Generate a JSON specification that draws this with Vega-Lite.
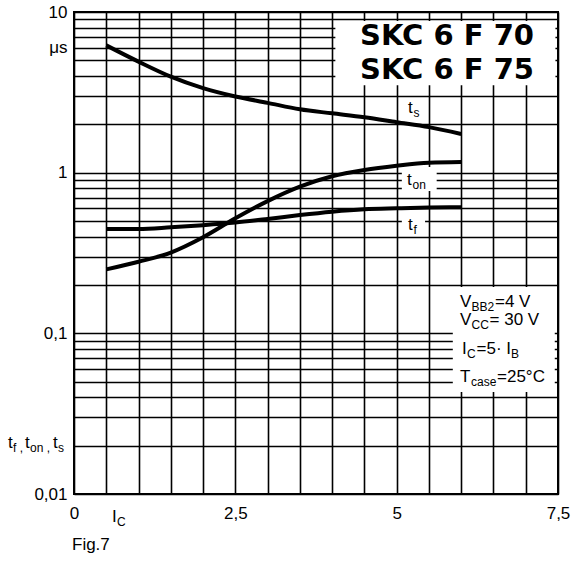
{
  "$schema": "https://vega.github.io/schema/vega-lite/v6.json",
  "width": 484,
  "height": 482,
  "autosize": {"type": "none"},
  "padding": {"left": 74, "top": 12, "right": 13, "bottom": 69},
  "background": "white",
  "config": {
    "view": {"stroke": "black", "strokeWidth": 2},
    "font": "Liberation Sans"
  },
  "datasets": {
    "curves": [
      {"series": "ts", "x": 0.5, "y": 6.2},
      {"series": "ts", "x": 1.0, "y": 4.91},
      {"series": "ts", "x": 1.5, "y": 3.96},
      {"series": "ts", "x": 2.0, "y": 3.36},
      {"series": "ts", "x": 2.5, "y": 2.98},
      {"series": "ts", "x": 3.0, "y": 2.72},
      {"series": "ts", "x": 3.5, "y": 2.48},
      {"series": "ts", "x": 4.0, "y": 2.34},
      {"series": "ts", "x": 4.5, "y": 2.21},
      {"series": "ts", "x": 5.0, "y": 2.06},
      {"series": "ts", "x": 5.5, "y": 1.92},
      {"series": "ts", "x": 6.0, "y": 1.74},
      {"series": "ton", "x": 0.5, "y": 0.25},
      {"series": "ton", "x": 1.0, "y": 0.279},
      {"series": "ton", "x": 1.5, "y": 0.318},
      {"series": "ton", "x": 2.0, "y": 0.396},
      {"series": "ton", "x": 2.5, "y": 0.52},
      {"series": "ton", "x": 3.0, "y": 0.665},
      {"series": "ton", "x": 3.5, "y": 0.818},
      {"series": "ton", "x": 4.0, "y": 0.95},
      {"series": "ton", "x": 4.5, "y": 1.04},
      {"series": "ton", "x": 5.0, "y": 1.105},
      {"series": "ton", "x": 5.5, "y": 1.154},
      {"series": "ton", "x": 6.0, "y": 1.166},
      {"series": "tf", "x": 0.5, "y": 0.446},
      {"series": "tf", "x": 1.0, "y": 0.446},
      {"series": "tf", "x": 1.5, "y": 0.457},
      {"series": "tf", "x": 2.0, "y": 0.471},
      {"series": "tf", "x": 2.5, "y": 0.489},
      {"series": "tf", "x": 3.0, "y": 0.515},
      {"series": "tf", "x": 3.5, "y": 0.545},
      {"series": "tf", "x": 4.0, "y": 0.572},
      {"series": "tf", "x": 4.5, "y": 0.592},
      {"series": "tf", "x": 5.0, "y": 0.6},
      {"series": "tf", "x": 5.5, "y": 0.606},
      {"series": "tf", "x": 6.0, "y": 0.609}
    ],
    "boxes": [
      {"x": 4.05, "x2": 7.46, "y": 3.5, "y2": 8.8},
      {"x": 5.08, "x2": 5.62, "y": 0.77, "y2": 1.085},
      {"x": 5.08, "x2": 5.44, "y": 0.41, "y2": 0.56},
      {"x": 5.87, "x2": 7.45, "y": 0.0432, "y2": 0.194}
    ],
    "labels": [
      {"k": "big", "x": 5.78, "y": 6.236, "text": "SKC 6 F 70"},
      {"k": "big", "x": 5.78, "y": 3.83, "text": "SKC 6 F 75"},
      {"k": "main", "x": 5.176, "y": 2.353, "text": "t"},
      {"k": "sub", "x": 5.26, "y": 2.353, "text": "s"},
      {"k": "main", "x": 5.16, "y": 0.838, "text": "t"},
      {"k": "sub", "x": 5.245, "y": 0.838, "text": "on"},
      {"k": "main", "x": 5.176, "y": 0.44, "text": "t"},
      {"k": "sub", "x": 5.26, "y": 0.44, "text": "f"},
      {"k": "main", "x": 5.981, "y": 0.1459, "text": "V"},
      {"k": "sub", "x": 6.16, "y": 0.1459, "text": "BB2"},
      {"k": "main", "x": 6.524, "y": 0.1459, "text": "=4 V"},
      {"k": "main", "x": 5.981, "y": 0.1127, "text": "V"},
      {"k": "sub", "x": 6.16, "y": 0.1127, "text": "CC"},
      {"k": "main", "x": 6.439, "y": 0.1127, "text": "= 30 V"},
      {"k": "main", "x": 6.012, "y": 0.0744, "text": "I"},
      {"k": "sub", "x": 6.09, "y": 0.0744, "text": "C"},
      {"k": "main", "x": 6.237, "y": 0.0744, "text": "=5· I"},
      {"k": "sub", "x": 6.772, "y": 0.0744, "text": "B"},
      {"k": "main", "x": 5.981, "y": 0.0498, "text": "T"},
      {"k": "sub", "x": 6.152, "y": 0.0498, "text": "case"},
      {"k": "main", "x": 6.555, "y": 0.0498, "text": "=25°C"},
      {"k": "main", "x": -1.023, "y": 0.01934, "text": "t"},
      {"k": "sub", "x": -0.945, "y": 0.01934, "text": "f ,"},
      {"k": "main", "x": -0.759, "y": 0.01934, "text": "t"},
      {"k": "sub", "x": -0.682, "y": 0.01934, "text": "on ,"},
      {"k": "main", "x": -0.325, "y": 0.01934, "text": "t"},
      {"k": "sub", "x": -0.248, "y": 0.01934, "text": "s"},
      {"k": "main", "x": 0.589, "y": 0.00673, "text": "I"},
      {"k": "sub", "x": 0.666, "y": 0.00673, "text": "C"},
      {"k": "main", "x": -0.031, "y": 0.00449, "text": "Fig.7"}
    ]
  },
  "encoding": {
    "x": {
      "field": "x",
      "type": "quantitative",
      "scale": {"domain": [0, 7.5], "nice": false, "zero": false},
      "axis": {
        "title": null,
        "values": [0, 0.5, 1, 1.5, 2, 2.5, 3, 3.5, 4, 4.5, 5, 5.5, 6, 6.5, 7, 7.5],
        "labelExpr": "datum.value == 0 ? '0' : datum.value == 2.5 ? '2,5' : datum.value == 5 ? '5' : datum.value == 7.5 ? '7,5' : ''",
        "grid": true,
        "gridColor": "black",
        "gridWidth": 1.6,
        "gridOpacity": 1,
        "domain": false,
        "ticks": false,
        "labelPadding": 11,
        "labelFontSize": 17,
        "labelColor": "black",
        "labelFont": "Liberation Sans",
        "labelOverlap": false,
        "labelFlush": false,
        "labelBound": false
      }
    },
    "y": {
      "field": "y",
      "type": "quantitative",
      "scale": {"type": "log", "domain": [0.01, 10], "nice": false},
      "axis": {
        "title": null,
        "values": [0.01, 0.02, 0.03, 0.04, 0.05, 0.06, 0.07, 0.08, 0.09, 0.1, 0.2, 0.3, 0.4, 0.5, 0.6, 0.7, 0.8, 0.9, 1, 2, 3, 4, 5, 6, 7, 8, 9, 10],
        "labelExpr": "datum.value == 10 ? '10' : datum.value == 6 ? 'μs' : datum.value == 1 ? '1' : datum.value == 0.1 ? '0,1' : datum.value == 0.01 ? '0,01' : ''",
        "grid": true,
        "gridColor": "black",
        "gridWidth": 1.6,
        "gridOpacity": 1,
        "domain": false,
        "ticks": false,
        "labelPadding": 7,
        "labelFontSize": 17,
        "labelColor": "black",
        "labelFont": "Liberation Sans",
        "labelOverlap": false,
        "labelFlush": false,
        "labelBound": false
      }
    }
  },
  "layer": [
    {
      "data": {"name": "boxes"},
      "mark": {"type": "rect", "color": "white", "opacity": 1},
      "encoding": {
        "x2": {"field": "x2"},
        "y2": {"field": "y2"}
      }
    },
    {
      "data": {"name": "curves"},
      "mark": {"type": "line", "color": "black", "strokeWidth": 4, "interpolate": "monotone"},
      "encoding": {
        "detail": {"field": "series", "type": "nominal"}
      }
    },
    {
      "data": {"name": "labels"},
      "transform": [{"filter": "datum.k == 'big'"}],
      "mark": {"type": "text", "font": "DejaVu Sans", "fontWeight": "bold", "fontSize": 29, "align": "center", "baseline": "alphabetic", "color": "black"},
      "encoding": {"text": {"field": "text", "type": "nominal"}}
    },
    {
      "data": {"name": "labels"},
      "transform": [{"filter": "datum.k == 'main'"}],
      "mark": {"type": "text", "font": "Liberation Sans", "fontSize": 17, "align": "left", "baseline": "alphabetic", "color": "black"},
      "encoding": {"text": {"field": "text", "type": "nominal"}}
    },
    {
      "data": {"name": "labels"},
      "transform": [{"filter": "datum.k == 'sub'"}],
      "mark": {"type": "text", "font": "Liberation Sans", "fontSize": 12, "align": "left", "baseline": "alphabetic", "dy": 4, "color": "black"},
      "encoding": {"text": {"field": "text", "type": "nominal"}}
    }
  ]
}
